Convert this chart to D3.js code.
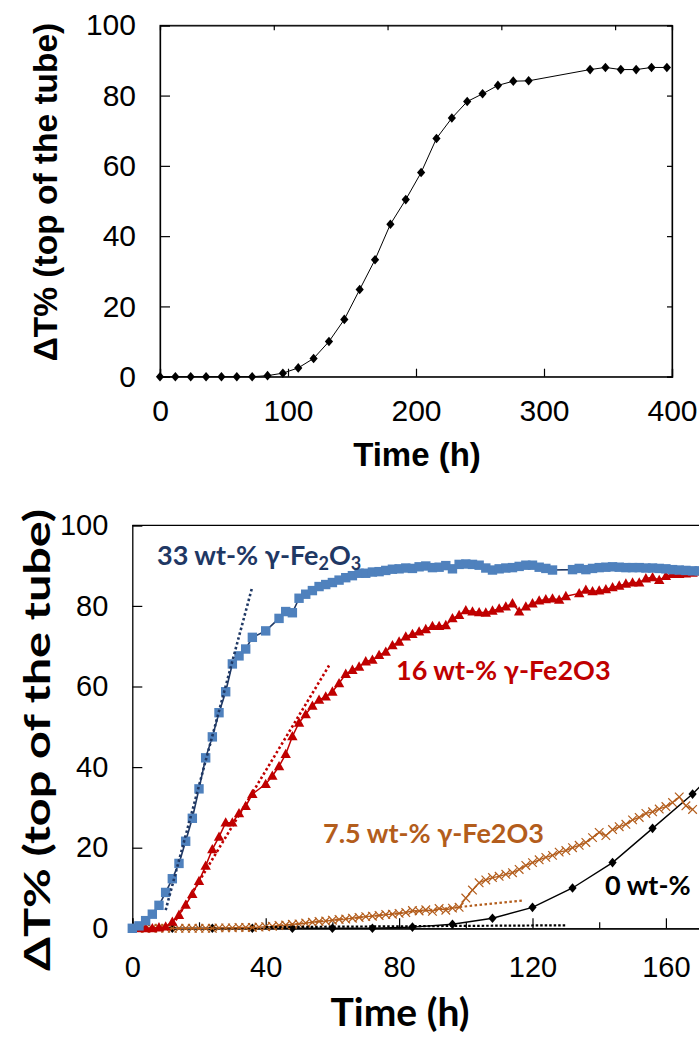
<!DOCTYPE html>
<html>
<head>
<meta charset="utf-8">
<script src="https://cdn.jsdelivr.net/npm/d3@7"></script>
<style>
  body { margin: 0; background: #fff; }
  svg { display: block; }
</style>
</head>
<body>
<div id="chart"></div>
<script>
//////////// *** DATA *** ////////////

// top panel: [time h, dT %]  (also the 0 wt-% series of the lower panel)
var seriesPure = [[0,0],[12,0],[24,0],[36,0],[48,0],[60,0],[72,0],[84,0.3],[96,1],[108,2.5],[120,5.2],
  [132,10],[144,16.3],[156,24.8],[168,33.3],[180,43.4],[192,50.4],[204,58.1],[216,67.8],[228,73.6],
  [240,78.3],[252,80.5],[264,82.9],[276,84.1],[288,84.2],[336,87.4],[348,88],[360,87.4],[372,87.4],
  [384,88],[396,88]];

// lower panel, 33 wt-% g-Fe2O3
var series33 = [[0,0],[2,0.6],[4,1.9],[6,3.5],[8,5.7],[10,8.9],[12,12.3],[14,16.1],[16,21.6],[18,27.3],
  [20,34.6],[22,42.3],[24,47.5],[26,53.5],[28,58.7],[30,65.6],[32,67.6],[34,69.3],[36,72.2],[40,73.8],
  [44,76.9],[46,78.6],[48,78.3],[50,81.9],[52,82.9],[54,83.8],[56,84.8],[58,85.3],[60,85.8],[62,86.4],
  [64,87],[66,87.5],[68,88.1],[70,88.1],[72,88.4],[74,88.5],[76,88.8],[78,89.1],[80,89.2],[82,89.4],
  [84,89.3],[86,89.7],[88,89.9],[90,89.5],[92,89.6],[94,90],[96,89.2],[98,90.3],[100,90.4],[102,90.3],
  [104,90.1],[106,89.4],[108,88.9],[110,89.2],[112,89.4],[114,89.5],[116,89.8],[118,90.1],[120,90.1],
  [122,89.6],[124,89.3],[126,88.9],[132,89],[134,89.3],[136,89],[138,89.3],[140,89.5],[142,89.6],
  [144,89.7],[146,89.6],[148,89.5],[150,89.5],[152,89.5],[154,89.4],[156,89.4],[158,89.3],[160,89.2],
  [162,89],[164,88.9],[166,88.8],[168,88.7],[170,88.7]];

// lower panel, 16 wt-%
var series16 = [[2,0],[4,0],[6,0],[8,0.2],[10,0.4],[12,1.6],[14,3.3],[16,5.8],[18,8.5],[20,11.7],
  [22,15.5],[24,19.6],[26,22.7],[28,26.2],[30,26.2],[32,28.5],[34,30.3],[36,33.3],[40,35.8],[42,37.8],
  [44,40.2],[46,43.2],[48,47.6],[50,51],[52,53.1],[54,55.2],[56,56.7],[58,57.5],[60,58.7],[62,60.8],
  [64,63.1],[66,64.1],[68,64.9],[70,66.2],[72,66.6],[74,67.8],[76,68.6],[78,70.2],[80,71.1],[82,72.4],
  [84,73],[86,73.6],[88,74.2],[90,75],[92,75],[94,75.2],[96,76.9],[98,77.7],[100,78.9],[102,78.6],
  [104,78.4],[106,78.3],[108,78.8],[110,79.3],[112,79.8],[114,80.6],[116,78.6],[118,79.8],[120,80.6],
  [122,81.3],[124,81.6],[126,81.8],[128,81.5],[130,82.4],[134,83.1],[136,84],[138,83.6],[140,83.8],
  [142,84.1],[144,84.6],[146,85],[148,85.5],[150,85.8],[152,85.8],[154,86.8],[156,87.1],[158,86.4],
  [160,87.4],[162,87.9],[164,87.9],[166,88],[168,88.2],[170,88.5]];

// lower panel, 7.5 wt-%
var series75 = [[2,0],[4,0],[6,0],[8,0],[10,0],[12,0],[14,0],[16,0],[18,0],[20,0],[22,0],[24,0],
  [26,0.1],[28,0.1],[30,0.1],[32,0.2],[34,0.2],[36,0.2],[38,0.3],[40,0.4],[42,0.5],[44,0.7],[46,0.8],
  [48,1],[50,1.1],[52,1.3],[54,1.5],[56,1.7],[58,1.8],[60,2],[62,2.2],[64,2.3],[66,2.5],[68,2.7],
  [70,2.9],[72,3],[74,3.2],[76,3.4],[78,3.5],[80,3.7],[82,3.9],[84,4.4],[86,4.3],[88,4.6],[90,4.2],
  [92,4.9],[94,4.5],[96,5],[98,5.2],[100,7.5],[102,9.5],[104,11.3],[106,12],[108,12.6],[110,12.9],
  [112,13.4],[114,13.8],[116,14.6],[118,15.6],[120,16.3],[122,17],[124,17.6],[126,18.1],[128,18.9],
  [130,19.3],[132,20],[134,20.6],[136,21.3],[138,22.5],[140,23.8],[142,23],[144,24.5],[146,25.2],
  [148,25.8],[150,26.9],[152,27.5],[154,28.5],[156,28.9],[158,29.6],[160,30.2],[162,31.2],[164,32.6],
  [166,30.4],[168,29.5]];

// linear fits (dotted)
var fit33 = [[10,4.5],[36,84.8]];
var fit16 = [[13,2],[59,65.2]];
var fit75 = [[40,0.3],[117,6.9]];
var fitPure = [[40,0.3],[130,0.75]];

var topXTicks = [0,100,200,300,400];
var topX2Ticks = [100,200,300,400];
var yTicks = [0,20,40,60,80,100];
var lowXTicks = [0,40,80,120,160];
var lowXMinor = [20,60,100,140];

//////////// *** SETUP *** ////////////

var svg = d3.select("#chart").append("svg")
  .attr("width", 699)
  .attr("height", 1037);

var diamond = "M0,-4.8L4.1,0L0,4.8L-4.1,0Z";
var triangle = "M0,-5.4L5.2,3.9L-5.2,3.9Z";
var cross = "M-4.3,-4.3L4.3,4.3M-4.3,4.3L4.3,-4.3";

var navy = "#1f3864", blue = "#4f81bd", red = "#c00000", brown = "#b35d1c";

function styleAxis(g, font, size) {
  g.select(".domain").attr("stroke", "#000").attr("stroke-width", 1.3);
  g.selectAll(".tick line").attr("stroke", "#000").attr("stroke-width", 1.2);
  g.selectAll(".tick text").attr("fill", "#000")
    .style("font-family", font).style("font-size", size + "px");
}

//////////// *** TOP PANEL *** ////////////

var x1 = d3.scaleLinear().domain([0, 400]).range([160, 672]);
var x1b = d3.scaleLinear().domain([0, 450]).range([160, 672]);
var y1 = d3.scaleLinear().domain([0, 100]).range([376.7, 25.3]);

var topPanel = svg.append("g");

topPanel.append("rect")
  .attr("x", 160).attr("y", 25.3)
  .attr("width", 512).attr("height", 351.4)
  .attr("fill", "none").attr("stroke", "#333").attr("stroke-width", 1);

topPanel.append("g")
  .attr("transform", "translate(0,25.3)")
  .call(d3.axisTop(x1b).tickValues(topX2Ticks).tickSize(-5).tickFormat(""))
  .call(styleAxis, "Liberation Sans", 30);

topPanel.append("g")
  .attr("transform", "translate(672,0)")
  .call(d3.axisRight(y1).tickValues(yTicks).tickSize(-5).tickFormat(""))
  .call(styleAxis, "Liberation Sans", 30);

topPanel.append("g")
  .attr("transform", "translate(0,376.7)")
  .call(d3.axisBottom(x1).tickValues(topXTicks).tickSize(-8).tickPadding(23))
  .call(styleAxis, "Liberation Sans", 30);

topPanel.append("g")
  .attr("transform", "translate(160,0)")
  .call(d3.axisLeft(y1).tickValues(yTicks).tickSize(-10).tickPadding(24))
  .call(styleAxis, "Liberation Sans", 30);

var line1 = d3.line().x(function(d) { return x1(d[0]); }).y(function(d) { return y1(d[1]); });

topPanel.append("path")
  .datum(seriesPure)
  .attr("d", line1)
  .attr("fill", "none").attr("stroke", "#000").attr("stroke-width", 1);

topPanel.selectAll(".dia")
  .data(seriesPure)
  .enter().append("path")
  .attr("class", "dia")
  .attr("d", diamond)
  .attr("transform", function(d) { return "translate(" + x1(d[0]) + "," + y1(d[1]) + ")"; })
  .attr("fill", "#000");

topPanel.append("text")
  .attr("x", 417).attr("y", 466)
  .attr("text-anchor", "middle")
  .style("font-family", "Liberation Sans").style("font-weight", "bold").style("font-size", "33px")
  .text("Time (h)");

topPanel.append("text")
  .attr("transform", "translate(57,192) rotate(-90)")
  .attr("text-anchor", "middle")
  .style("font-family", "Liberation Sans").style("font-weight", "bold").style("font-size", "33.5px")
  .text("ΔT% (top of the tube)");

//////////// *** LOWER PANEL *** ////////////

var x2 = d3.scaleLinear().domain([0, 180]).range([132.3, 732.6]);
var y2 = d3.scaleLinear().domain([0, 100]).range([928.3, 525.3]);

var low = svg.append("g");

low.append("line")
  .attr("x1", 132.3).attr("x2", 699)
  .attr("y1", 525.3).attr("y2", 525.3)
  .attr("stroke", "#000").attr("stroke-width", 1.3);

low.append("g")
  .attr("transform", "translate(0,928.3)")
  .call(d3.axisBottom(x2).tickValues(lowXMinor).tickSize(-6).tickFormat(""))
  .call(styleAxis, "Liberation Sans", 29);

low.append("g")
  .attr("transform", "translate(0,928.3)")
  .call(d3.axisBottom(x2).tickValues(lowXTicks).tickSize(-10).tickPadding(28))
  .call(styleAxis, "Liberation Sans", 29);

low.append("g")
  .attr("transform", "translate(132.3,0)")
  .call(d3.axisLeft(y2).tickValues(yTicks).tickSize(-10).tickPadding(24))
  .call(styleAxis, "Liberation Sans", 29);

var line2 = d3.line().x(function(d) { return x2(d[0]); }).y(function(d) { return y2(d[1]); });

function pos(d) { return "translate(" + x2(d[0]) + "," + y2(d[1]) + ")"; }

// 0 wt-%
low.append("path").datum(seriesPure.filter(function(d) { return d[0] <= 200; }))
  .attr("d", line2).attr("fill", "none").attr("stroke", "#000").attr("stroke-width", 1.4);
low.selectAll(".d0").data(seriesPure.filter(function(d) { return d[0] <= 200; }))
  .enter().append("path").attr("class", "d0")
  .attr("d", diamond).attr("transform", pos).attr("fill", "#000");

// 7.5 wt-%
low.append("path").datum(series75)
  .attr("d", line2).attr("fill", "none").attr("stroke", brown).attr("stroke-width", 1.3);
low.selectAll(".d75").data(series75)
  .enter().append("path").attr("class", "d75")
  .attr("d", cross).attr("transform", pos)
  .attr("fill", "none").attr("stroke", brown).attr("stroke-width", 1.2);

// 16 wt-%
low.append("path").datum(series16)
  .attr("d", line2).attr("fill", "none").attr("stroke", red).attr("stroke-width", 1.5);
low.selectAll(".d16").data(series16)
  .enter().append("path").attr("class", "d16")
  .attr("d", triangle).attr("transform", pos).attr("fill", red);

// 33 wt-%
low.append("path").datum(series33)
  .attr("d", line2).attr("fill", "none").attr("stroke", navy).attr("stroke-width", 1.6);
low.selectAll(".d33").data(series33)
  .enter().append("rect").attr("class", "d33")
  .attr("x", -4.7).attr("y", -4.7).attr("width", 9.4).attr("height", 9.4)
  .attr("transform", pos).attr("fill", blue);

// dotted fits
[[fit33, navy, 2.6, "2.5,2.5"], [fit16, red, 2.6, "2.5,2.5"],
 [fit75, brown, 2.2, "2.5,2.5"], [fitPure, "#000", 2.2, "2.5,2"]].forEach(function(f) {
  low.append("path").datum(f[0])
    .attr("d", line2).attr("fill", "none")
    .attr("stroke", f[1]).attr("stroke-width", f[2])
    .attr("stroke-dasharray", f[3]);
});

// series labels
function label(x, y, color, parts) {
  var t = low.append("text").attr("x", x).attr("y", y)
    .attr("fill", color)
    .style("font-family", "Lato").style("font-weight", "bold").style("font-size", "27px");
  parts.forEach(function(p) {
    var s = t.append("tspan").text(p[0]);
    if (p[1]) s.attr("baseline-shift", "-28%").style("font-size", "18px");
  });
}
label(157, 565, navy, [["33 wt-% γ-Fe"], ["2", true], ["O"], ["3", true]]);
label(396, 680, red, [["16 wt-% γ-Fe2O3"]]);
label(323, 842.7, brown, [["7.5 wt-% γ-Fe2O3"]]);
label(605, 895, "#000", [["0 wt-%"]]);

low.append("text")
  .attr("x", 400).attr("y", 1026)
  .attr("text-anchor", "middle")
  .style("font-family", "Lato").style("font-weight", "bold").style("font-size", "39px")
  .text("Time (h)");

low.append("text")
  .attr("transform", "translate(50,740) rotate(-90)")
  .attr("text-anchor", "middle")
  .attr("textLength", 462).attr("lengthAdjust", "spacingAndGlyphs")
  .style("font-family", "Lato").style("font-weight", "bold").style("font-size", "37px")
  .text("ΔT% (top of the tube)");
</script>
</body>
</html>
